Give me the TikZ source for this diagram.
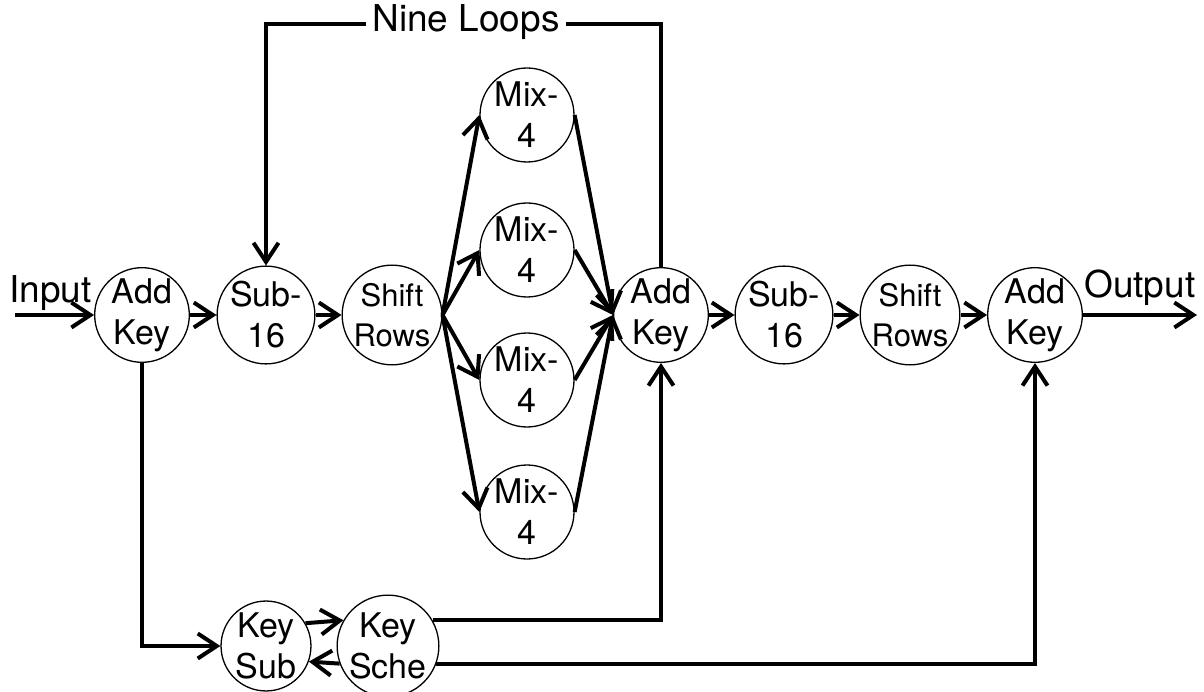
\documentclass[tikz,border=0pt]{standalone}
\usepackage{fontspec}
\setmainfont{TeX Gyre Heros}
\usetikzlibrary{arrows.meta}
\begin{document}
\begin{tikzpicture}[x=1pt,y=-1pt,
  blk/.style={circle,draw,line width=1.3pt,minimum size=88pt,inner sep=0pt,align=center,
    font=\fontsize{34}{41}\selectfont},
  mixblk/.style={blk,minimum size=94pt},
  shiftblk/.style={blk,font=\fontsize{31}{40}\selectfont},
  wire/.style={line width=4pt},
  flow/.style={wire,-{Straight Barb[length=19pt,width=25pt]}},
  lbl/.style={font=\fontsize{37}{42}\selectfont,inner sep=0pt}]
\useasboundingbox (0,0) rectangle (1204,692);

% main round
\node[blk] (a1) at (142,315) {Add\\Key};
\node[blk] (s1) at (266,315) {Sub-\\16};
\node[shiftblk] (r1) at (392,315) {Shift\\Rows};
\node[mixblk] (m1) at (527,115) {Mix-\\4};
\node[mixblk] (m2) at (527,250) {Mix-\\4};
\node[mixblk] (m3) at (527,380) {Mix-\\4};
\node[mixblk] (m4) at (527,512) {Mix-\\4};
\node[blk] (a2) at (661,315) {Add\\Key};

% final round
\node[blk] (s2) at (784,315) {Sub-\\16};
\node[shiftblk] (r2) at (910,315) {Shift\\Rows};
\node[blk] (a3) at (1035,315) {Add\\Key};

% key schedule
\node[blk] (ks) at (266,646) {Key\\Sub};
\node[blk] (kc) at (388,646) {Key\\Sche};

% labels
\node[lbl,anchor=base west] (in) at (9,303) {Input};
\node[lbl,anchor=base west] (out) at (1084,298) {Output};
\node[lbl,anchor=base,inner xsep=6pt] (loops) at (466,32) {Nine Loops};

\coordinate (inS) at (15,315);
\coordinate (outE) at (1197,315);

% data path
\draw[flow] (inS) -- (a1);
\draw[flow] (a1) -- (s1);
\draw[flow] (s1) -- (r1);
\foreach \m in {m1,m2,m3,m4} {
  \draw[flow] (r1.east) -- (\m.west);
  \draw[flow] (\m.east) -- (a2.west);
}
\draw[flow] (a2) -- (s2);
\draw[flow] (s2) -- (r2);
\draw[flow] (r2) -- (a3);
\draw[flow] (a3) -- (outE);

% loop back
\draw[wire] (a2.north) |- (loops.east |- 0,24);
\draw[flow] (loops.west |- 0,24) -| (s1.north);

% key path
\draw[flow] (a1.south) |- (ks.west);
\draw[flow] (ks.30) -- (kc.150);
\draw[flow] (kc.200) -- (ks.-20);
\draw[flow] (kc.30) -| (a2.south);
\draw[flow] (kc.-20) -| (a3.south);
\end{tikzpicture}
\end{document}
